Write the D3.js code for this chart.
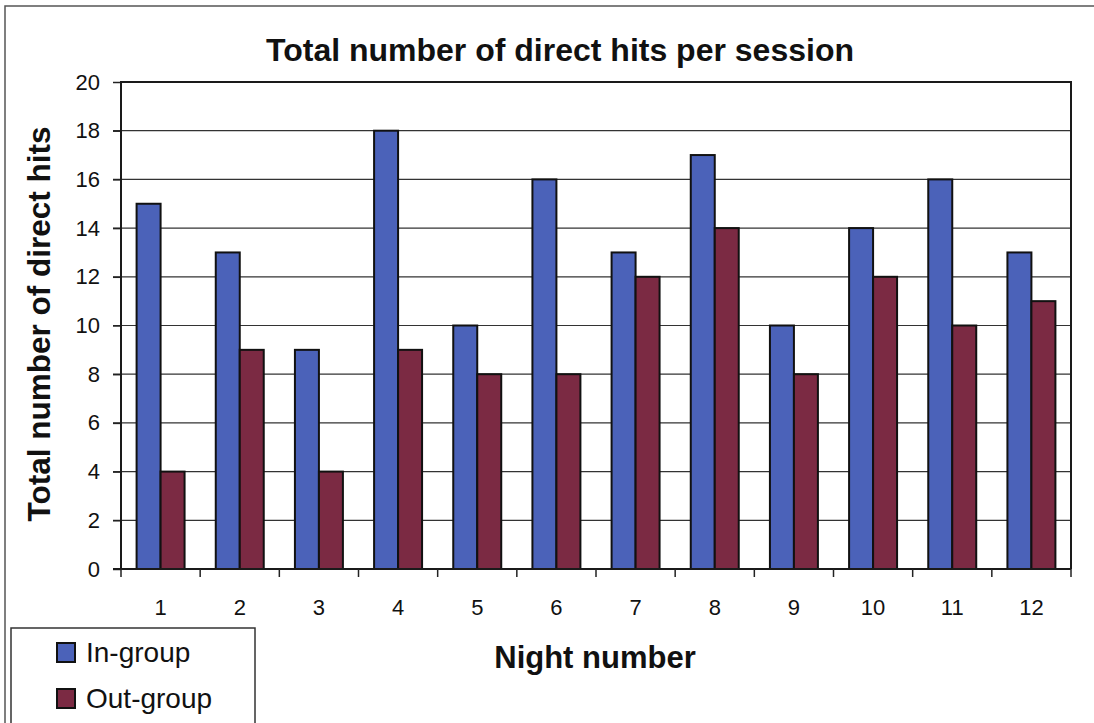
<!DOCTYPE html>
<html>
<head>
<meta charset="utf-8">
<script src="https://cdn.jsdelivr.net/npm/d3@7/dist/d3.min.js"></script>
<style>
  html, body { margin: 0; padding: 0; background: #fff; }
  svg { display: block; font-family: Arial, "Liberation Sans", sans-serif; }
</style>
</head>
<body>
<svg id="chart" width="1094" height="723"></svg>
<script>
// Night sessions and hit counts per group
const nights = ["1", "2", "3", "4", "5", "6", "7", "8", "9", "10", "11", "12"];
const inGroup = [15, 13, 9, 18, 10, 16, 13, 17, 10, 14, 16, 13];
const outGroup = [4, 9, 4, 9, 8, 8, 12, 14, 8, 12, 10, 11];
const seriesNames = ["In-group", "Out-group"];
const yTicks = [0, 2, 4, 6, 8, 10, 12, 14, 16, 18, 20];

const colors = { "In-group": "#4b62b9", "Out-group": "#7b2a43" };

const svg = d3.select("#chart");
const plot = { left: 121, top: 82, right: 1071, bottom: 569 };

const x0 = d3.scaleBand().domain(nights).range([plot.left, plot.right]).padding(0);
const x1 = d3.scaleBand().domain(seriesNames).range([0, x0.bandwidth()])
  .paddingInner(0).paddingOuter(0.65);
const y = d3.scaleLinear().domain([0, 20]).range([plot.bottom, plot.top]);

// page frame
svg.append("path").attr("d", "M5,723 V6 H1094")
  .attr("fill", "none").attr("stroke", "#555").attr("stroke-width", 1.5);

// horizontal gridlines with left tick stubs
svg.append("g").selectAll("line").data(yTicks.filter(d => d > 0 && d < 20)).join("line")
  .attr("x1", plot.left - 8).attr("x2", plot.right)
  .attr("y1", d => y(d)).attr("y2", d => y(d))
  .attr("stroke", "#333").attr("stroke-width", 1.2);

// y axis (ticks + labels)
const yAxis = svg.append("g").attr("transform", `translate(${plot.left},0)`)
  .call(d3.axisLeft(y).tickValues(yTicks).tickSize(8).tickPadding(13));
yAxis.select(".domain").remove();
yAxis.selectAll(".tick line").attr("stroke", "#222").attr("stroke-width", 1.5);
yAxis.selectAll(".tick text").attr("font-size", 22).attr("fill", "#111")
  .attr("font-family", "Arial, 'Liberation Sans', sans-serif");

// bars
const groups = svg.append("g").selectAll("g").data(nights).join("g")
  .attr("transform", d => `translate(${x0(d)},0)`);
groups.selectAll("rect")
  .data((d, i) => [
    { key: "In-group", value: inGroup[i] },
    { key: "Out-group", value: outGroup[i] }
  ])
  .join("rect")
  .attr("x", d => x1(d.key))
  .attr("y", d => y(d.value))
  .attr("width", x1.bandwidth())
  .attr("height", d => y(0) - y(d.value))
  .attr("fill", d => colors[d.key])
  .attr("stroke", "#111").attr("stroke-width", 2);

// plot border: top and right edges, left axis line
svg.append("path")
  .attr("d", `M${plot.left},${plot.bottom} V${plot.top} H${plot.right} V${plot.bottom}`)
  .attr("fill", "none").attr("stroke", "#1a1a1a").attr("stroke-width", 2);

// x axis with ticks at category boundaries
const boundaries = nights.map(d => x0(d)).concat([plot.right]);
svg.append("line").attr("x1", plot.left - 8).attr("x2", plot.right)
  .attr("y1", plot.bottom).attr("y2", plot.bottom)
  .attr("stroke", "#1a1a1a").attr("stroke-width", 2);
svg.append("g").selectAll("line").data(boundaries).join("line")
  .attr("x1", d => d).attr("x2", d => d)
  .attr("y1", plot.bottom).attr("y2", plot.bottom + 8)
  .attr("stroke", "#222").attr("stroke-width", 1.5);
svg.append("g").selectAll("text").data(nights).join("text")
  .attr("x", d => x0(d) + x0.bandwidth() / 2)
  .attr("y", plot.bottom + 46)
  .attr("text-anchor", "middle")
  .attr("font-size", 22).attr("fill", "#111")
  .text(d => d);

// title
svg.append("text").attr("x", 560).attr("y", 61)
  .attr("text-anchor", "middle").attr("font-weight", "bold")
  .attr("font-size", 32).attr("fill", "#111")
  .text("Total number of direct hits per session");

// axis titles
svg.append("text").attr("x", 595).attr("y", 668)
  .attr("text-anchor", "middle").attr("font-weight", "bold")
  .attr("font-size", 31).attr("fill", "#111")
  .text("Night number");

svg.append("text")
  .attr("transform", "translate(50,324) rotate(-90)")
  .attr("text-anchor", "middle").attr("font-weight", "bold")
  .attr("font-size", 31.5).attr("fill", "#111")
  .text("Total number of direct hits");

// legend
const legend = svg.append("g");
legend.append("rect").attr("x", 11).attr("y", 628).attr("width", 244).attr("height", 110)
  .attr("fill", "#fff").attr("stroke", "#333").attr("stroke-width", 1.5);
const items = legend.selectAll("g").data(seriesNames).join("g")
  .attr("transform", (d, i) => `translate(57,${643 + i * 46})`);
items.append("rect").attr("width", 18).attr("height", 19)
  .attr("fill", d => colors[d]).attr("stroke", "#111").attr("stroke-width", 2);
items.append("text").attr("x", 29).attr("y", 19)
  .attr("font-size", 28).attr("fill", "#111")
  .text(d => d);
</script>
</body>
</html>
